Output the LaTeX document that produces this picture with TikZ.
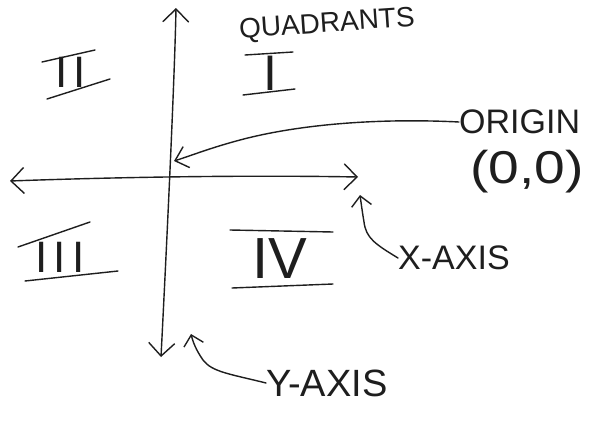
\documentclass[tikz,border=0pt]{standalone}
\usepackage{fontspec}
\setmainfont{Liberation Sans}
\usetikzlibrary{arrows.meta}
\definecolor{pencil}{HTML}{1E1E1E}
\tikzset{
  stroke/.style={draw=pencil, line width=1.4pt, line cap=round, line join=round},
  tip/.style={-{Straight Barb[length=12pt,width=22pt,line width=1.4pt]}},
  bothtips/.style={{Straight Barb[length=13pt,width=26pt,line width=1.4pt]}-{Straight Barb[length=13pt,width=26pt,line width=1.4pt]}},
  lbl/.style={text=pencil, inner sep=0pt, anchor=center},
  numeral/.style={text=pencil, inner sep=0pt, anchor=center, font=\fontsize{44}{44}\selectfont},
}
\begin{document}
\begin{tikzpicture}[x=1pt,y=-1pt]
\useasboundingbox[fill=white] (0,0) rectangle (597,423);

% axes end points and origin
\coordinate (ytop) at (176,8);
\coordinate (ybot) at (161,357);
\coordinate (xleft) at (10,181);
\coordinate (xright) at (358,177);
\coordinate (o) at (174,161);

\draw[stroke,bothtips] (ybot) .. controls (170,180) and (175,60) .. (ytop);
\draw[stroke,bothtips] (xleft) .. controls (120,177) and (250,175) .. (xright);

% labels
\node[lbl, font=\fontsize{28}{28}\selectfont, rotate=4] (quad) at (327,25) {QUADRANTS};
\node[lbl, font=\fontsize{34}{34}\selectfont, anchor=west] (orig) at (459,122) {ORIGIN};
\node[lbl, font=\fontsize{46}{46}\selectfont, xscale=1.2] (zero) at (527,172) {(0,0)};
\node[lbl, font=\fontsize{34}{34}\selectfont, anchor=west] (xlab) at (398,258) {X-AXIS};
\node[lbl, font=\fontsize{38}{38}\selectfont, anchor=west] (ylab) at (266,383) {Y-AXIS};

% pointers
\draw[stroke,tip] (orig.west) .. controls (380,118) and (300,124) .. (240,140) .. controls (210,148) and (190,156) .. (o);
\coordinate (xtip) at (360,195);
\draw[stroke,-{Straight Barb[length=10pt,width=20pt,line width=1.4pt]}] (xlab.west) .. controls (375,244) and (366,238) .. (364,222) .. controls (362,210) and (361,202) .. (xtip);
\coordinate (ytip) at (191,334);
\draw[stroke,-{Straight Barb[length=10pt,width=20pt,line width=1.4pt]}] (ylab.west) .. controls (230,374) and (212,372) .. (203,360) .. controls (196,350) and (193,342) .. (ytip);

% quadrant numerals
\node[numeral] (q2) at (71,72) {I\kern6pt I};
\node[numeral, font=\fontsize{50}{50}\selectfont] (q1) at (270,73) {I};
\node[numeral] (q3) at (60,257) {I\kern6pt I\kern6pt I};
\node[numeral, font=\fontsize{58}{58}\selectfont] (q4) at (280,259) {IV};

% bars of the numerals
\draw[stroke] (42,62) -- (95,50);
\draw[stroke] (47,99) -- (110,79);
\draw[stroke] (245,55) -- (293,52);
\draw[stroke] (243,95) -- (295,89);
\draw[stroke] (18,247) -- (90,222);
\draw[stroke] (25,281) -- (118,271);
\draw[stroke] (230,230) -- (333,232);
\draw[stroke] (232,288) -- (333,284);
\end{tikzpicture}
\end{document}
